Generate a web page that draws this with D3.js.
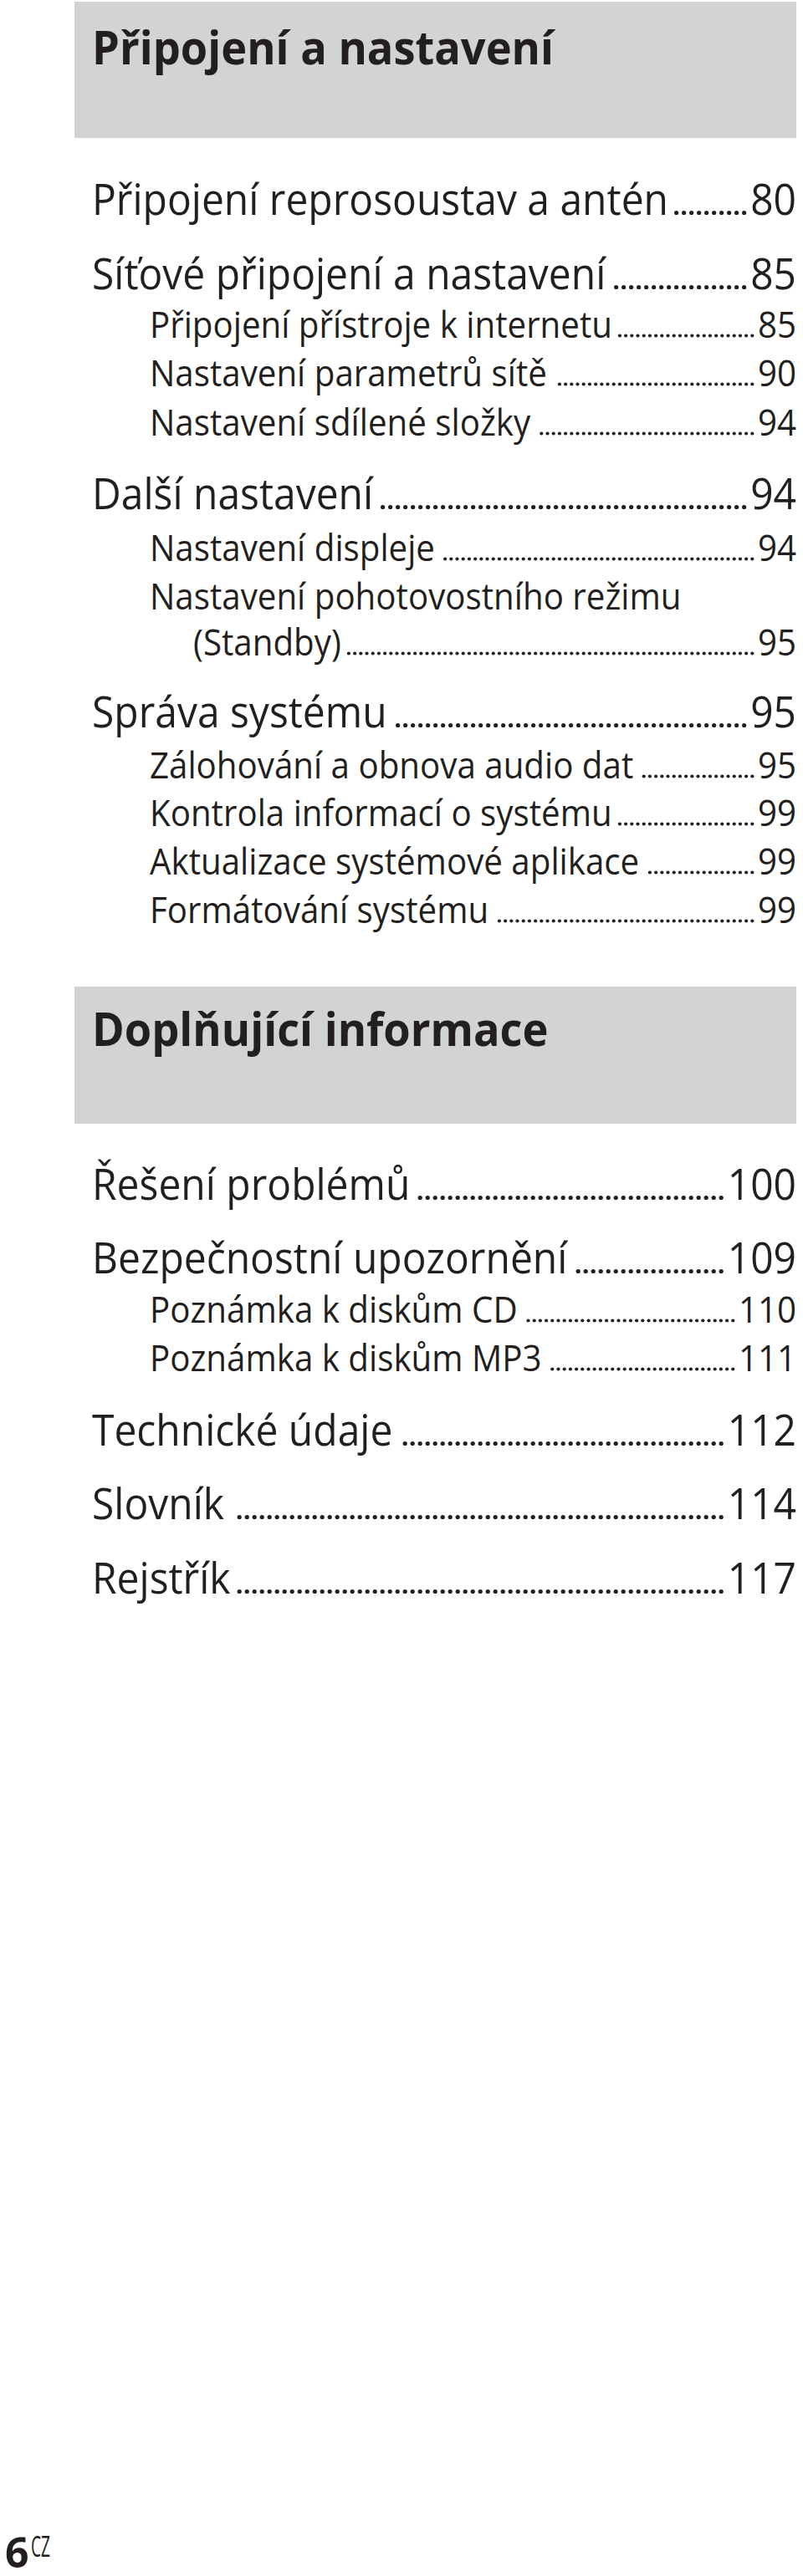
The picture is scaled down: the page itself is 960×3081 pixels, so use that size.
<!DOCTYPE html>
<html><head><meta charset="utf-8">
<script src="https://cdn.jsdelivr.net/npm/d3@7"></script>
<style>body{margin:0;background:#fff}</style></head>
<body><svg id="c" width="960" height="3081"></svg>
<script>
const sectionTitles = ["Připojení a nastavení", "Doplňující informace"];
const sectionBoxes = [[2,165],[1180,1344]];
const titleBaselines = [77, 1251];
const labels = ["Připojení reprosoustav a antén","Síťové připojení a nastavení","Připojení přístroje k internetu","Nastavení parametrů sítě","Nastavení sdílené složky","Další nastavení","Nastavení displeje","Nastavení pohotovostního režimu","(Standby)","Správa systému","Zálohování a obnova audio dat","Kontrola informací o systému","Aktualizace systémové aplikace","Formátování systému","Řešení problémů","Bezpečnostní upozornění","Poznámka k diskům CD","Poznámka k diskům MP3","Technické údaje","Slovník","Rejstřík"];
const pages = ["80","85","85","90","94","94","94","","95","95","95","99","99","99","100","109","110","111","112","114","117"];
const levels = [0,0,1,1,1,0,1,1,2,0,1,1,1,1,0,0,1,1,0,0,0];
const baselines = [257,346,404,462,521,609,671,729,784,870,931,988,1046,1104,1435,1523,1582,1640,1729,1817,1906];

const svg = d3.select("#c");
const ink = "#231f20", FONT = "Open Sans";
const indent = d3.scaleOrdinal().domain([0,1,2]).range([110,179,231]);
const fsize = d3.scaleOrdinal().domain([0,1,2]).range([51,43,43]);
const right = 952;

svg.selectAll("rect.sec").data(sectionBoxes).join("rect")
  .attr("x",89).attr("width",863).attr("y",d=>d[0]).attr("height",d=>d[1]-d[0]).attr("fill","#d1d3d4");

function measure(txt, fs, w){ const t=svg.append("text").attr("font-family",FONT).attr("font-size",fs).attr("font-weight",w||400).text(txt); const l=t.node().getComputedTextLength(); t.remove(); return l; }
const kMain = 689/measure(labels[0],51), kSub = 553/measure(labels[2],43);
const kBold = 552/measure(sectionTitles[0],56,700);
const k = l => l===0 ? kMain : kSub;

svg.selectAll("text.title").data(sectionTitles).join("text")
  .attr("x",110).attr("y",(d,i)=>titleBaselines[i]).attr("font-family",FONT).attr("font-weight",700)
  .attr("font-size",56).attr("fill",ink).attr("lengthAdjust","spacingAndGlyphs")
  .attr("textLength",d=>measure(d,56,700)*kBold).text(d=>d);

labels.forEach((lab,i)=>{
  const lv=levels[i], fs=fsize(lv), x=indent(lv), y=baselines[i];
  const lw = measure(lab,fs)*k(lv);
  svg.append("text").attr("x",x).attr("y",y).attr("font-family",FONT).attr("font-size",fs).attr("fill",ink)
    .attr("lengthAdjust","spacingAndGlyphs").attr("textLength",lw).text(lab);
  if(!pages[i]) return;
  const pw = measure(pages[i],fs)*k(lv);
  svg.append("text").attr("x",right-pw).attr("y",y).attr("font-family",FONT).attr("font-size",fs).attr("fill",ink)
    .attr("lengthAdjust","spacingAndGlyphs").attr("textLength",pw).text(pages[i]);
  const x0 = x+lw+4, x1 = right-pw-4, step = lv===0?9:7.2;
  const n = Math.floor((x1-x0)/step);
  const dots = d3.range(n).map(j=>x1-step*(n-1)+step*j - step/2 + 1);
  svg.append("g").selectAll("circle").data(dots).join("circle")
    .attr("cx",d=>d).attr("cy",y-2.5).attr("r",lv===0?2.6:2.1).attr("fill",ink);
});

svg.append("text").attr("x",6).attr("y",3071).attr("font-family",FONT).attr("font-weight",700)
  .attr("font-size",50).attr("fill",ink).text("6");
svg.append("text").attr("x",37).attr("y",3058).attr("font-family",FONT)
  .attr("font-size",34).attr("fill",ink).attr("lengthAdjust","spacingAndGlyphs").attr("textLength",23).text("CZ");
</script></body></html>
